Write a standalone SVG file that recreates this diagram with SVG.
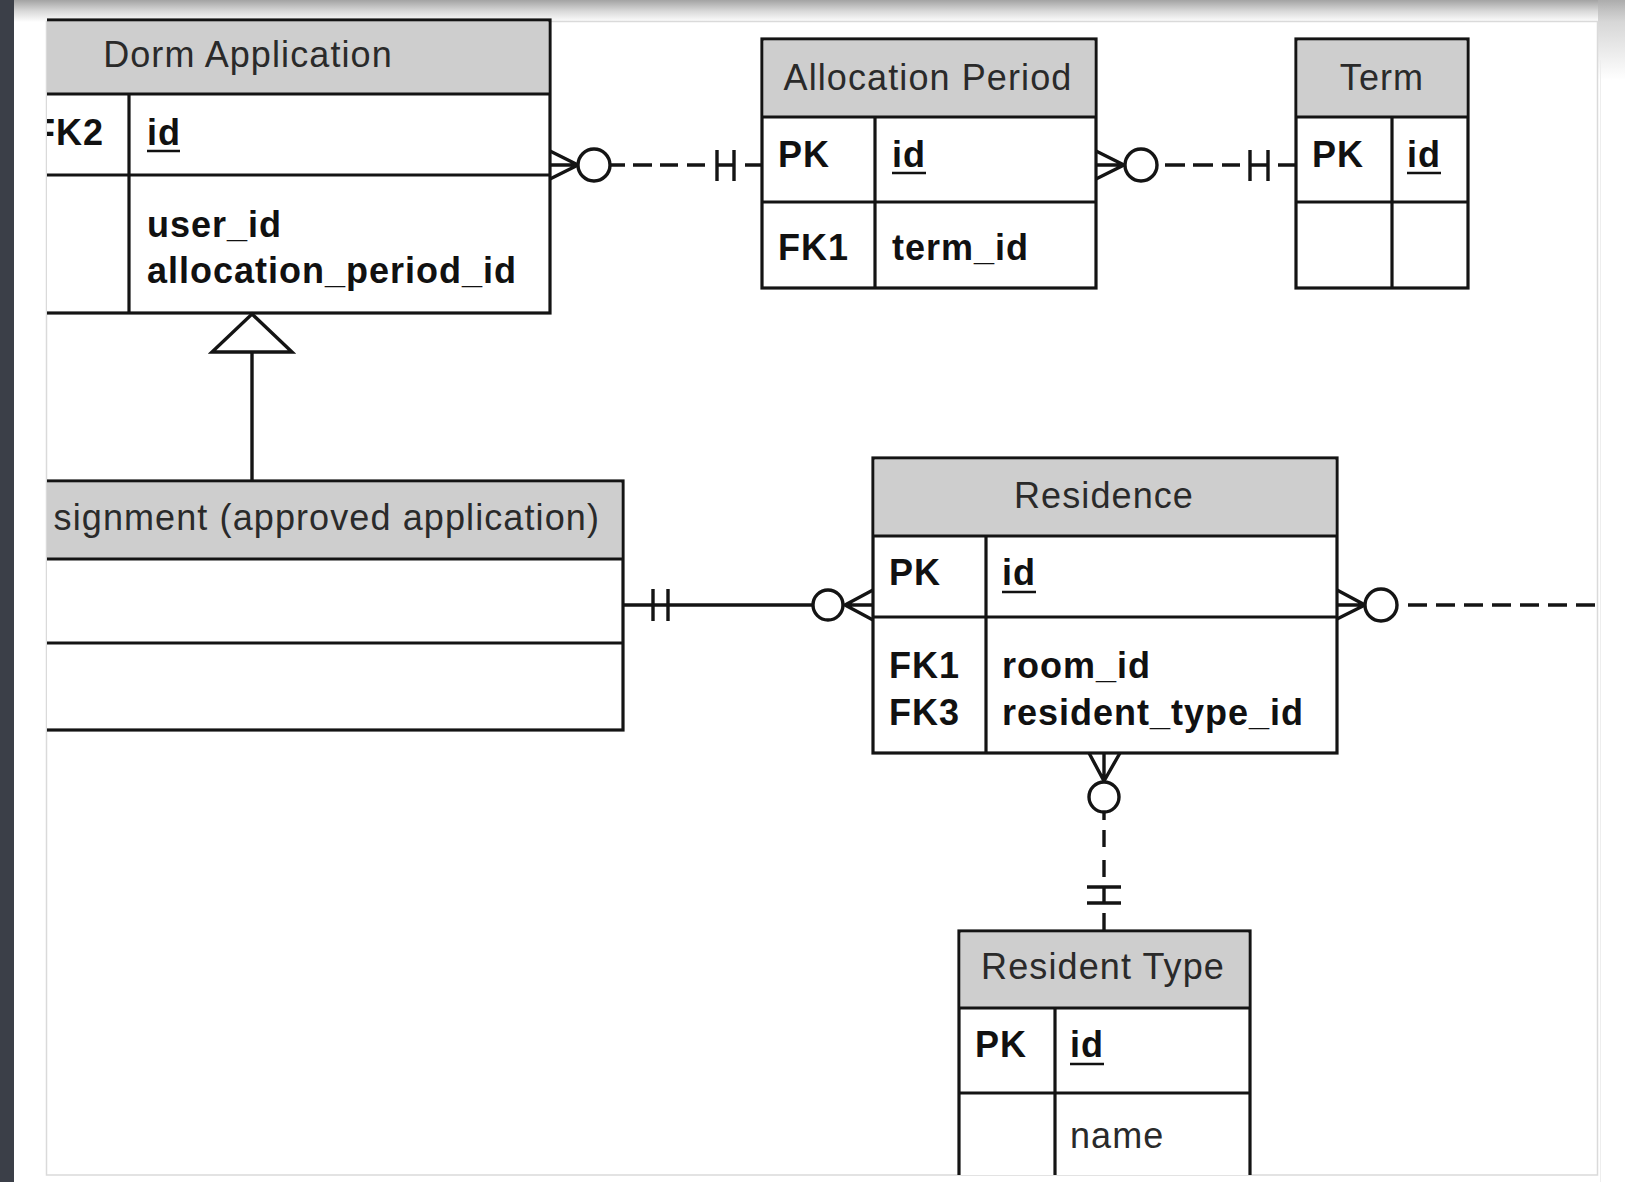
<svg xmlns="http://www.w3.org/2000/svg" width="1625" height="1182" viewBox="0 0 1625 1182">
  <defs>
    <style>
      .box { fill: #ffffff; stroke: #141414; stroke-width: 3.2; }
      .hdr { fill: #cecece; stroke: none; }
      .ln { stroke: #141414; stroke-width: 3.2; fill: none; }
      .conn { stroke: #141414; stroke-width: 3.4; fill: none; }
      .circ { stroke: #141414; stroke-width: 3.4; fill: #ffffff; }
      .title { font-family: "Liberation Sans", Arial, Helvetica, sans-serif; font-size: 36px; letter-spacing: 1.1px; fill: #2a2a2a; }
      .fld { font-family: "Liberation Sans", Arial, Helvetica, sans-serif; font-size: 36px; font-weight: bold; letter-spacing: 1px; fill: #111111; }
      .fldr { font-family: "Liberation Sans", Arial, Helvetica, sans-serif; font-size: 36px; letter-spacing: 1.1px; fill: #2a2a2a; }
      .ul { stroke: #111111; stroke-width: 2.6; }
    </style>
    <linearGradient id="topShadow" x1="0" y1="0" x2="0" y2="1">
      <stop offset="0" stop-color="#a3a3a3"/>
      <stop offset="0.5" stop-color="#d8d8d8"/>
      <stop offset="1" stop-color="#ffffff"/>
    </linearGradient>
    <linearGradient id="rightShadow" x1="0" y1="0" x2="0" y2="1">
      <stop offset="0" stop-color="#b0b0b0"/>
      <stop offset="1" stop-color="#ffffff"/>
    </linearGradient>
    <clipPath id="page">
      <rect x="47" y="0" width="1550" height="1175"/>
    </clipPath>
  </defs>

  <!-- background -->
  <rect x="0" y="0" width="1625" height="1182" fill="#ffffff"/>
  <rect x="0" y="0" width="1625" height="22" fill="url(#topShadow)"/>
  <rect x="1598" y="0" width="27" height="80" fill="url(#rightShadow)" opacity="0.7"/>
  <rect x="0" y="0" width="14" height="1182" fill="#3b3f48"/>
  <rect x="46.5" y="21.5" width="1551" height="1153.5" fill="#ffffff" stroke="#dadada" stroke-width="1.5"/>
  <line x1="1600.5" y1="60" x2="1600.5" y2="1182" stroke="#eeeeee" stroke-width="1"/>

  <g clip-path="url(#page)">
    <g id="dorm-application">
      <rect class="box" x="-60" y="20" width="610" height="293"/>
      <rect class="hdr" x="-58.4" y="21.6" width="606.8" height="72.4"/>
      <line class="ln" x1="-60" y1="94" x2="550" y2="94"/>
      <line class="ln" x1="-60" y1="175" x2="550" y2="175"/>
      <line class="ln" x1="129" y1="94" x2="129" y2="313"/>
      <text class="title" x="248" y="67" text-anchor="middle">Dorm Application</text>
      <text class="fld" x="33" y="145">FK2</text>
      <text class="fld" x="147" y="145">id</text>
      <line class="ul" x1="147" y1="151" x2="180" y2="151"/>
      <text class="fld" x="147" y="237">user_id</text>
      <text class="fld" x="147" y="283">allocation_period_id</text>
    </g>

    <g id="allocation-period">
      <rect class="box" x="762" y="39" width="334" height="249"/>
      <rect class="hdr" x="763.6" y="40.6" width="330.8" height="76.4"/>
      <line class="ln" x1="762" y1="117" x2="1096" y2="117"/>
      <line class="ln" x1="762" y1="202" x2="1096" y2="202"/>
      <line class="ln" x1="875" y1="117" x2="875" y2="288"/>
      <text class="title" x="928" y="90" text-anchor="middle">Allocation Period</text>
      <text class="fld" x="778" y="167">PK</text>
      <text class="fld" x="892" y="167">id</text>
      <line class="ul" x1="892" y1="173" x2="926" y2="173"/>
      <text class="fld" x="778" y="260">FK1</text>
      <text class="fld" x="892" y="260">term_id</text>
    </g>

    <g id="term">
      <rect class="box" x="1296" y="39" width="172" height="249"/>
      <rect class="hdr" x="1297.6" y="40.6" width="168.8" height="76.4"/>
      <line class="ln" x1="1296" y1="117" x2="1468" y2="117"/>
      <line class="ln" x1="1296" y1="202" x2="1468" y2="202"/>
      <line class="ln" x1="1392" y1="117" x2="1392" y2="288"/>
      <text class="title" x="1382" y="90" text-anchor="middle">Term</text>
      <text class="fld" x="1312" y="167">PK</text>
      <text class="fld" x="1407" y="167">id</text>
      <line class="ul" x1="1407" y1="173" x2="1441" y2="173"/>
    </g>

    <g id="assignment">
      <rect class="box" x="-60" y="481" width="683" height="249"/>
      <rect class="hdr" x="-58.4" y="482.6" width="679.8" height="76.4"/>
      <line class="ln" x1="-60" y1="559" x2="623" y2="559"/>
      <line class="ln" x1="-60" y1="643" x2="623" y2="643"/>
      <text class="title" x="600" y="530" text-anchor="end">signment (approved application)</text>
    </g>

    <g id="residence">
      <rect class="box" x="873" y="458" width="464" height="295"/>
      <rect class="hdr" x="874.6" y="459.6" width="460.8" height="76.4"/>
      <line class="ln" x1="873" y1="536" x2="1337" y2="536"/>
      <line class="ln" x1="873" y1="617" x2="1337" y2="617"/>
      <line class="ln" x1="986" y1="536" x2="986" y2="753"/>
      <text class="title" x="1104" y="508" text-anchor="middle">Residence</text>
      <text class="fld" x="889" y="585">PK</text>
      <text class="fld" x="1002" y="585">id</text>
      <line class="ul" x1="1002" y1="592" x2="1036" y2="592"/>
      <text class="fld" x="889" y="678">FK1</text>
      <text class="fld" x="1002" y="678">room_id</text>
      <text class="fld" x="889" y="725">FK3</text>
      <text class="fld" x="1002" y="725">resident_type_id</text>
    </g>

    <g id="resident-type">
      <rect class="box" x="959" y="931" width="291" height="330"/>
      <rect class="hdr" x="960.6" y="932.6" width="287.8" height="75.4"/>
      <line class="ln" x1="959" y1="1008" x2="1250" y2="1008"/>
      <line class="ln" x1="959" y1="1093" x2="1250" y2="1093"/>
      <line class="ln" x1="1055" y1="1008" x2="1055" y2="1261"/>
      <text class="title" x="1103" y="979" text-anchor="middle">Resident Type</text>
      <text class="fld" x="975" y="1057">PK</text>
      <text class="fld" x="1070" y="1057">id</text>
      <line class="ul" x1="1070" y1="1064" x2="1104" y2="1064"/>
      <text class="fldr" x="1070" y="1148">name</text>
    </g>

    <g id="connectors">
      <!-- Dorm Application -> Allocation Period -->
      <path class="conn" d="M550,151 L578,165 L550,179 M550,165 H578"/>
      <circle class="circ" cx="594" cy="165" r="16"/>
      <path class="conn" d="M610,165 H625 M633,165 H652 M660,165 H678 M687,165 H705 M717,150 V181 M717,165 H734 M734,150 V181 M745,165 H762"/>

      <!-- Allocation Period -> Term -->
      <path class="conn" d="M1096,151 L1124,165 L1096,179 M1096,165 H1124"/>
      <circle class="circ" cx="1141" cy="165" r="16"/>
      <path class="conn" d="M1165,165 H1185 M1193,165 H1213 M1222,165 H1240 M1250,150 V181 M1250,165 H1268 M1268,150 V181 M1278,165 H1296"/>

      <!-- Generalisation: Assignment -> Dorm Application -->
      <path class="conn" d="M252,352 V481"/>
      <path class="conn" d="M252,314 L292,352 H212 Z" fill="#ffffff"/>

      <!-- Assignment -> Residence -->
      <path class="conn" d="M623,605 H813 M653,589 V621 M668,589 V621"/>
      <circle class="circ" cx="828" cy="605" r="15"/>
      <path class="conn" d="M873,590 L845,605 L873,620 M845,605 H873"/>

      <!-- Residence -> off page -->
      <path class="conn" d="M1337,590 L1365,605 L1337,619 M1337,605 H1365"/>
      <circle class="circ" cx="1381" cy="605" r="16"/>
      <path class="conn" d="M1408,605 H1600" stroke-dasharray="19 9"/>

      <!-- Residence -> Resident Type -->
      <path class="conn" d="M1089,753 L1104,781 L1120,753 M1104,753 V781"/>
      <circle class="circ" cx="1104" cy="797" r="15"/>
      <path class="conn" d="M1104,812 V820 M1104,830 V847 M1104,860 V877 M1087,887 H1121 M1104,887 V903 M1087,903 H1121 M1104,913 V931"/>
    </g>
  </g>
</svg>
